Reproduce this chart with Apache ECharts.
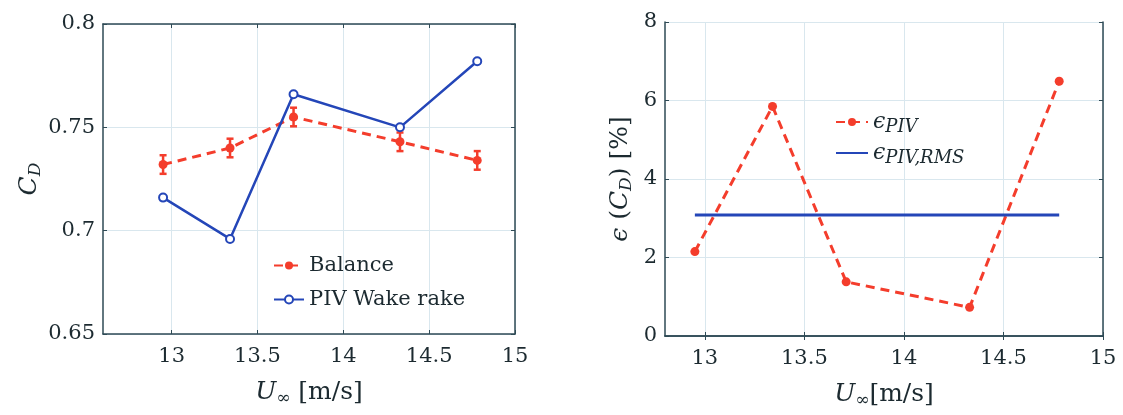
<!DOCTYPE html>
<html>
<head>
<meta charset="utf-8">
<script src="https://cdn.jsdelivr.net/npm/echarts@6/dist/echarts.min.js"></script>
<style>
html,body{margin:0;padding:0;background:#fff;}
#c{width:1123px;height:415px;}
</style>
</head>
<body>
<div id="c"></div>
<script>
// ---- data ----
const speeds = [12.95, 13.34, 13.71, 14.33, 14.78];
const balanceCd = [0.732, 0.740, 0.755, 0.743, 0.734];
const balanceErr = [0.0045, 0.0045, 0.0045, 0.0045, 0.0045];
const pivCd = [0.716, 0.696, 0.766, 0.750, 0.782];
const epsPiv = [2.15, 5.85, 1.38, 0.73, 6.49];
const rmsX = [12.95, 14.78];
const epsRms = 3.08;
const xTicks = [13, 13.5, 14, 14.5, 15];
const leftYTicks = [0.65, 0.7, 0.75, 0.8];
const rightYTicks = [0, 2, 4, 6, 8];

// ---- styling ----
const RED = '#f43d2c';
const BLUE = '#2446b8';
const FRAME = '#2e4a55';
const GRIDC = '#d9e7ee';
const TXT = '#1c2a30';
const FONT = 'DejaVu Serif';

const nameRich = {
  i: {fontFamily: FONT, fontStyle: 'italic', fontSize: 25, color: TXT},
  s: {fontFamily: FONT, fontStyle: 'italic', fontSize: 17, color: TXT, verticalAlign: 'bottom', padding: [12, 0, 0, 0]},
  n: {fontFamily: FONT, fontSize: 25, color: TXT}
};
const legRich = {
  i: {fontFamily: FONT, fontStyle: 'italic', fontSize: 22, color: TXT},
  s: {fontFamily: FONT, fontStyle: 'italic', fontSize: 18, color: TXT, verticalAlign: 'bottom', padding: [10, 0, 0, 0]}
};

function xAxisPair(gi, min) {
  return [{
    type: 'value', gridIndex: gi, min: min, max: 15, position: 'bottom',
    axisLine: {show: true, lineStyle: {color: FRAME, width: 1.5}},
    axisTick: {show: true, inside: true, length: 4, customValues: xTicks, lineStyle: {color: FRAME}},
    axisLabel: {show: true, customValues: xTicks, fontFamily: FONT, fontSize: 21, color: TXT, margin: 12,
      formatter: v => String(+v.toFixed(2))},
    splitLine: {show: true, lineStyle: {color: GRIDC, width: 1}},
    nameLocation: 'middle', nameGap: 44,
    name: gi === 0 ? '{i|U}{s|∞}{n| [m/s]}' : '{i|U}{s|∞}{n|[m/s]}',
    nameTextStyle: {rich: nameRich}
  }, {
    type: 'value', gridIndex: gi, min: min, max: 15, position: 'top',
    axisLine: {show: true, lineStyle: {color: FRAME, width: 1.5}},
    axisTick: {show: true, inside: true, length: 4, customValues: xTicks, lineStyle: {color: FRAME}},
    axisLabel: {show: false}, splitLine: {show: false}
  }];
}
function yAxisPair(gi, min, max, ticks, name, gap) {
  return [{
    type: 'value', gridIndex: gi, min: min, max: max, position: 'left',
    axisLine: {show: true, lineStyle: {color: FRAME, width: 1.5}},
    axisTick: {show: true, inside: true, length: 4, customValues: ticks, lineStyle: {color: FRAME}},
    axisLabel: {show: true, customValues: ticks, fontFamily: FONT, fontSize: 21, color: TXT, margin: 8,
      formatter: v => String(+v.toFixed(2))},
    splitLine: {show: true, lineStyle: {color: GRIDC, width: 1}},
    nameLocation: 'middle', nameGap: gap, nameRotate: 90, name: name,
    nameTextStyle: {rich: nameRich}
  }, {
    type: 'value', gridIndex: gi, min: min, max: max, position: 'right',
    axisLine: {show: true, lineStyle: {color: FRAME, width: 1.5}},
    axisTick: {show: true, inside: true, length: 4, customValues: ticks, lineStyle: {color: FRAME}},
    axisLabel: {show: false}, splitLine: {show: false}
  }];
}

const chart = echarts.init(document.getElementById('c'), null, {renderer: 'canvas'});
const xs = xAxisPair(0, 12.6).concat(xAxisPair(1, 12.8));
const ys = yAxisPair(0, 0.65, 0.8, leftYTicks, '{i|C}{s|D}', 54)
  .concat(yAxisPair(1, 0, 8, rightYTicks, '{i|ϵ}{n| (}{i|C}{s|D}{n|) [%]}', 30));

const errData = speeds.map((x, i) => [x, balanceCd[i] - balanceErr[i], balanceCd[i] + balanceErr[i]]);

chart.setOption({
  animation: false,
  backgroundColor: '#ffffff',
  grid: [
    {left: 103, top: 24, width: 412, height: 310},
    {left: 665, top: 22, width: 438, height: 314}
  ],
  xAxis: xs,
  yAxis: ys,
  legend: [{
    data: ['Balance', 'PIV Wake rake'],
    left: 268, top: 250, orient: 'vertical', itemGap: 13, itemWidth: 30, itemHeight: 10,
    textStyle: {fontFamily: FONT, fontSize: 21, color: TXT},
    selectedMode: false
  }, {
    data: ['epsPIV', {name: 'epsRMS', itemStyle: {opacity: 0}}],
    left: 830, top: 106, orient: 'vertical', itemGap: 6, itemWidth: 32, itemHeight: 10,
    formatter: n => n === 'epsPIV' ? '{i|ϵ}{s|PIV}' : '{i|ϵ}{s|PIV,RMS}',
    textStyle: {rich: legRich, fontFamily: FONT, fontSize: 22, color: TXT},
    selectedMode: false
  }],
  series: [
    {
      name: 'Balance', type: 'line', xAxisIndex: 0, yAxisIndex: 0,
      data: speeds.map((x, i) => [x, balanceCd[i]]),
      lineStyle: {color: RED, width: 3, type: [9, 6]},
      itemStyle: {color: RED},
      symbol: 'circle', symbolSize: 9, z: 3
    },
    {
      name: 'BalanceErr', type: 'custom', xAxisIndex: 0, yAxisIndex: 0,
      data: errData, z: 4,
      renderItem: function (params, api) {
        const lo = api.coord([api.value(0), api.value(1)]);
        const hi = api.coord([api.value(0), api.value(2)]);
        const cw = 3.5;
        const st = {stroke: RED, lineWidth: 2.5};
        return {type: 'group', children: [
          {type: 'line', shape: {x1: lo[0], y1: lo[1], x2: hi[0], y2: hi[1]}, style: st},
          {type: 'line', shape: {x1: lo[0] - cw, y1: lo[1], x2: lo[0] + cw, y2: lo[1]}, style: st},
          {type: 'line', shape: {x1: hi[0] - cw, y1: hi[1], x2: hi[0] + cw, y2: hi[1]}, style: st}
        ]};
      }
    },
    {
      name: 'PIV Wake rake', type: 'line', xAxisIndex: 0, yAxisIndex: 0,
      data: speeds.map((x, i) => [x, pivCd[i]]),
      lineStyle: {color: BLUE, width: 2.5},
      itemStyle: {color: '#ffffff', borderColor: BLUE, borderWidth: 2},
      symbol: 'circle', symbolSize: 8, z: 5
    },
    {
      name: 'epsPIV', type: 'line', xAxisIndex: 2, yAxisIndex: 2,
      data: speeds.map((x, i) => [x, epsPiv[i]]),
      lineStyle: {color: RED, width: 3, type: [9, 6]},
      itemStyle: {color: RED},
      symbol: 'circle', symbolSize: 9, z: 3
    },
    {
      name: 'epsRMS', type: 'line', xAxisIndex: 2, yAxisIndex: 2,
      data: rmsX.map(x => [x, epsRms]),
      lineStyle: {color: BLUE, width: 3},
      itemStyle: {color: BLUE},
      symbol: 'none', z: 4
    }
  ]
});
</script>
</body>
</html>
